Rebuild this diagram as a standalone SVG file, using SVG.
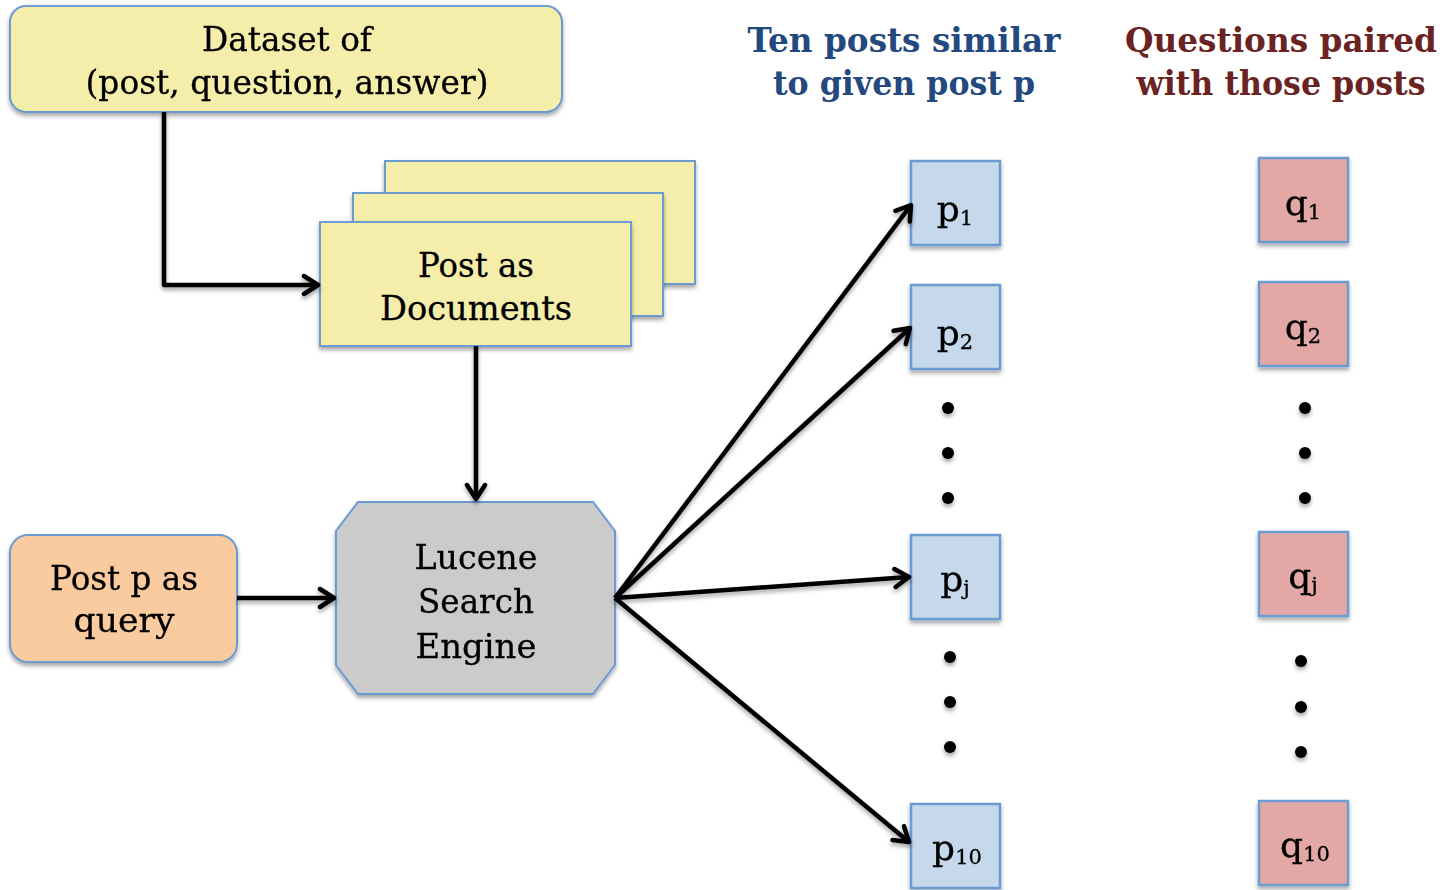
<svg xmlns="http://www.w3.org/2000/svg" width="1444" height="890" viewBox="0 0 1444 890">
<defs>
<filter id="sh" x="-10%" y="-10%" width="130%" height="130%">
<feDropShadow dx="0" dy="3" stdDeviation="2" flood-color="#000" flood-opacity="0.35"/>
</filter>
<marker id="arr" viewBox="0 0 24 24" markerWidth="24" markerHeight="24" refX="20" refY="12" orient="auto" markerUnits="userSpaceOnUse">
<path d="M6,3 L20,12 L6,21" fill="none" stroke="#000" stroke-width="4.5" stroke-linecap="round" stroke-linejoin="round"/>
</marker>
<style>
.lbl{font-family:"DejaVu Serif","Liberation Serif",serif;font-size:33px;fill:#000;stroke:#000;stroke-width:0.3;text-anchor:middle}
.hd{font-family:"DejaVu Serif","Liberation Serif",serif;font-size:33px;font-weight:bold;text-anchor:middle}
.pq{font-family:"DejaVu Serif","Liberation Serif",serif;font-size:36px;fill:#000;stroke:#000;stroke-width:0.3;text-anchor:middle}
.yel{fill:#F5EEAA;stroke:#6A9BD1;stroke-width:2}
.pb{fill:#C5D8EC;stroke:#6A9BD1;stroke-width:2.5}
.qb{fill:#E3A8A5;stroke:#6A9BD1;stroke-width:2.5}
.conn{fill:none;stroke:#000;stroke-width:4.5;stroke-linejoin:round;marker-end:url(#arr)}
.dot{fill:#000}
</style>
</defs>

<g id="dataset" filter="url(#sh)">
<rect class="yel" x="10" y="6" width="552" height="106" rx="16"/>
<text class="lbl" x="287" y="51" textLength="170" lengthAdjust="spacingAndGlyphs">Dataset of</text>
<text class="lbl" x="287" y="94" textLength="403" lengthAdjust="spacingAndGlyphs">(post, question, answer)</text>
</g>

<g id="documents">
<rect class="yel" x="385" y="161" width="310" height="123" filter="url(#sh)"/>
<rect class="yel" x="353" y="193" width="310" height="123" filter="url(#sh)"/>
<rect class="yel" x="320" y="222" width="311" height="124" filter="url(#sh)"/>
<text class="lbl" x="476" y="277" textLength="116" lengthAdjust="spacingAndGlyphs">Post as</text>
<text class="lbl" x="476" y="320" textLength="192" lengthAdjust="spacingAndGlyphs">Documents</text>
</g>

<g id="query" filter="url(#sh)">
<rect x="10" y="535" width="227" height="127" rx="18" fill="#FBCBA0" stroke="#6A9BD1" stroke-width="2"/>
<text class="lbl" x="124" y="590" textLength="148" lengthAdjust="spacingAndGlyphs">Post p as</text>
<text class="lbl" x="124" y="632" textLength="101" lengthAdjust="spacingAndGlyphs">query</text>
</g>

<g id="lucene" filter="url(#sh)">
<polygon points="358,502 593,502 615,531 615,665 593,694 358,694 336,665 336,531" fill="#CBCBCB" stroke="#6A9BD1" stroke-width="2"/>
<text class="lbl" x="476" y="569" textLength="123" lengthAdjust="spacingAndGlyphs">Lucene</text>
<text class="lbl" x="476" y="613" textLength="116" lengthAdjust="spacingAndGlyphs">Search</text>
<text class="lbl" x="476" y="658" textLength="121" lengthAdjust="spacingAndGlyphs">Engine</text>
</g>

<g id="header-posts">
<text class="hd" x="904" y="52" fill="#24497F" textLength="313" lengthAdjust="spacingAndGlyphs">Ten posts similar</text>
<text class="hd" x="904" y="95" fill="#24497F" textLength="262" lengthAdjust="spacingAndGlyphs">to given post p</text>
</g>
<g id="header-questions">
<text class="hd" x="1281" y="52" fill="#6B2222" textLength="312" lengthAdjust="spacingAndGlyphs">Questions paired</text>
<text class="hd" x="1281" y="95" fill="#6B2222" textLength="289" lengthAdjust="spacingAndGlyphs">with those posts</text>
</g>

<g id="p1" filter="url(#sh)"><rect class="pb" x="911" y="161" width="89" height="84"/><text class="pq" x="955" y="221">p<tspan font-size="21" dy="4">1</tspan></text></g>
<g id="p2" filter="url(#sh)"><rect class="pb" x="911" y="285" width="89" height="84"/><text class="pq" x="955" y="345">p<tspan font-size="21" dy="4">2</tspan></text></g>
<g id="pj" filter="url(#sh)"><rect class="pb" x="911" y="535" width="89" height="84"/><text class="pq" x="955" y="591">p<tspan font-size="21" dy="4">j</tspan></text></g>
<g id="p10" filter="url(#sh)"><rect class="pb" x="911" y="804" width="89" height="84"/><text class="pq" x="957" y="860">p<tspan font-size="21" dy="4">10</tspan></text></g>

<g id="q1" filter="url(#sh)"><rect class="qb" x="1259" y="158" width="89" height="84"/><text class="pq" x="1303" y="215">q<tspan font-size="21" dy="4">1</tspan></text></g>
<g id="q2" filter="url(#sh)"><rect class="qb" x="1259" y="282" width="89" height="84"/><text class="pq" x="1303" y="339">q<tspan font-size="21" dy="4">2</tspan></text></g>
<g id="qj" filter="url(#sh)"><rect class="qb" x="1259" y="532" width="89" height="84"/><text class="pq" x="1303" y="588">q<tspan font-size="21" dy="4">j</tspan></text></g>
<g id="q10" filter="url(#sh)"><rect class="qb" x="1259" y="801" width="89" height="84"/><text class="pq" x="1305" y="857">q<tspan font-size="21" dy="4">10</tspan></text></g>

<g id="dots" filter="url(#sh)">
<circle class="dot" cx="948" cy="408" r="6"/><circle class="dot" cx="948" cy="453" r="6"/><circle class="dot" cx="948" cy="498" r="6"/>
<circle class="dot" cx="950" cy="657" r="6"/><circle class="dot" cx="950" cy="702" r="6"/><circle class="dot" cx="950" cy="747" r="6"/>
<circle class="dot" cx="1305" cy="408" r="6"/><circle class="dot" cx="1305" cy="453" r="6"/><circle class="dot" cx="1305" cy="498" r="6"/>
<circle class="dot" cx="1301" cy="661" r="6"/><circle class="dot" cx="1301" cy="707" r="6"/><circle class="dot" cx="1301" cy="752" r="6"/>
</g>

<g id="connectors" filter="url(#sh)">
<path class="conn" d="M164,112 L164,285 L318,285"/>
<path class="conn" d="M476,346 L476,499"/>
<path class="conn" d="M237,598 L334,598"/>
<path class="conn" d="M615,598 L911,205"/>
<path class="conn" d="M615,598 L910,328"/>
<path class="conn" d="M615,598 L909,577"/>
<path class="conn" d="M615,598 L909,842"/>
</g>
</svg>
